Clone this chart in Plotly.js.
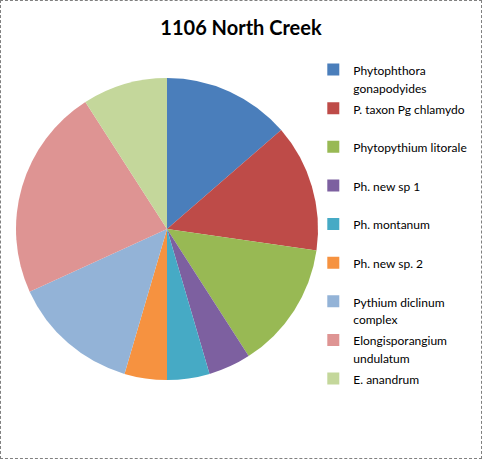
<!DOCTYPE html>
<html>
<head>
<meta charset="utf-8">
<script src="https://cdn.plot.ly/plotly-3.0.1.min.js"></script>
<style>
  body { margin: 0; background: #fff; }
  #wrap { position: relative; width: 482px; height: 459px; }
  #chart { width: 482px; height: 459px; }
  #frame {
    position: absolute; left: 0; top: 0; width: 482px; height: 459px;
    box-sizing: border-box; border: 1px dashed #808080; pointer-events: none;
  }
</style>
</head>
<body>
<div id="wrap">
  <div id="chart"></div>
  <div id="frame"></div>
</div>
<script>
// especies encontradas em 1106 North Creek
const especies = [
    "Phytophthora<br>gonapodyides",
    "P. taxon Pg chlamydo",
    "Phytopythium litorale",
    "Ph. new sp 1",
    "Ph. montanum",
    "Ph. new sp. 2",
    "Pythium diclinum<br>complex",
    "Elongisporangium<br>undulatum",
    "E. anandrum"
];
const contagens = [3, 3, 3, 1, 1, 1, 3, 5, 2];
const cores = [
    "#4A7EBB", "#BE4B48", "#98B954", "#7D60A0", "#46AAC5",
    "#F69240", "#93B3D7", "#DE9493", "#C4D79B"
];

// legenda: texto menor dentro de uma linha mais alta, para espacar como no Excel
const rotulos = especies.map((nome) => {
    const linhas = nome.split("<br>").map((l) => '<span style="font-size:12px">' + l + "</span>");
    if (linhas.length < 2) {
        linhas.push("\u00a0");
    }
    return linhas.join("<br>");
});

const trace = {
    type: "pie",
    labels: rotulos,
    values: contagens,
    sort: false,
    direction: "clockwise",
    rotation: 0,
    textinfo: "none",
    hoverinfo: "label+value",
    marker: { colors: cores, line: { width: 0 } },
    domain: { x: [0.0332, 0.6598], y: [0.1721, 0.8301] },
};

const layout = {
    width: 482,
    height: 459,
    paper_bgcolor: "#ffffff",
    margin: { l: 0, r: 0, t: 0, b: 0 },
    font: { family: "Lato, 'Open Sans', sans-serif", color: "#000000" },
    title: {
        text: "<b>1106 North Creek</b>",
        font: { size: 20, family: "Lato, 'Open Sans', sans-serif", color: "#000000" },
        x: 0.5,
        xanchor: "center",
        y: 0.939,
        yanchor: "middle",
    },
    showlegend: true,
    legend: {
        x: 0.650,
        xanchor: "left",
        y: 0.882,
        yanchor: "top",
        valign: "top",
        bgcolor: "rgba(0,0,0,0)",
        font: { size: 13.7, color: "#000000" },
    },
};

Plotly.newPlot("chart", [trace], layout, { displayModeBar: false, staticPlot: true });
</script>
</body>
</html>
